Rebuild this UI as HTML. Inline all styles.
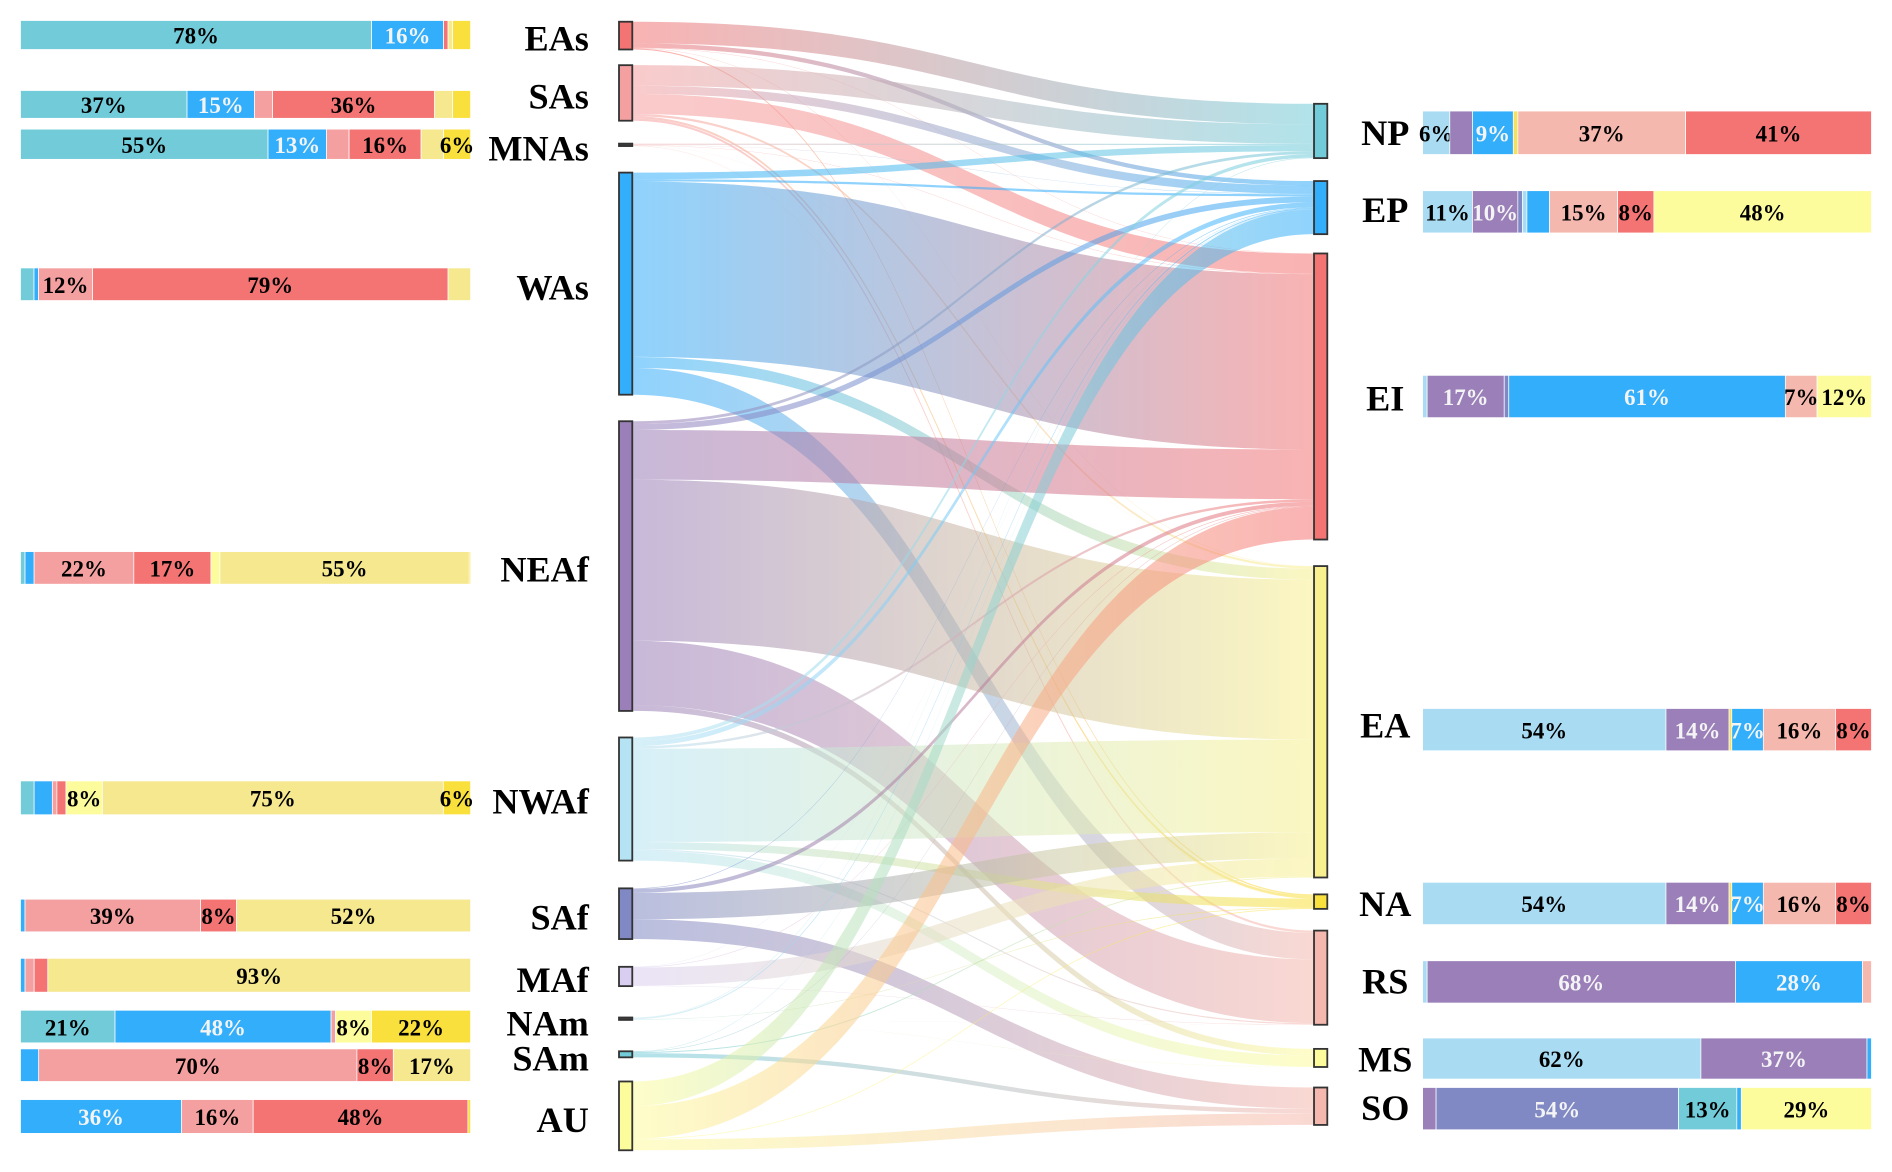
<!DOCTYPE html>
<html><head><meta charset="utf-8"><style>
html,body{margin:0;padding:0;background:#fff;}
svg{display:block;}
text{font-family:"Liberation Serif",serif;font-weight:bold;}
</style></head><body>
<svg id="chart" width="1892" height="1172" viewBox="0 0 1568 971" preserveAspectRatio="none" xmlns="http://www.w3.org/2000/svg">
<defs id="defs"></defs>
<g id="links"></g>
<g id="nodes"></g>
<g id="bars"></g>
</svg>
<script>
// ---- data ----
const sourceNames = ["EAs","SAs","MNAs","WAs","NEAf","NWAf","SAf","MAf","NAm","SAm","AU"];
const targetNames = ["NP","EP","EI","EA","NA","RS","MS","SO"];
const flowsEAs = [["NP",78],["EP",16],["EI",1],["EA",1],["NA",4]];
const flowsSAs = [["NP",37],["EP",15],["EI",36],["EA",4],["NA",4],["RS",4]];
const flowsMNAs = [["NP",55],["EP",13],["EI",16],["EA",5],["NA",6],["RS",5]];
const flowsWAs = [["NP",3],["EP",1],["EI",79],["EA",5],["RS",12]];
const flowsNEAf = [["NP",1],["EP",2],["EI",17],["EA",55],["RS",22],["MS",2]];
const flowsNWAf = [["NP",3],["EP",4],["EI",2],["EA",75],["NA",6],["RS",1],["MS",8]];
const flowsSAf = [["EP",1],["EI",8],["EA",52],["SO",39]];
const flowsMAf = [["EP",1],["EI",3],["EA",93],["RS",2]];
const flowsNAm = [["NP",21],["EP",48],["NA",22],["RS",1],["MS",8]];
const flowsSAm = [["EP",4],["EI",8],["EA",17],["SO",70]];
const flowsAU = [["EP",36],["EI",48],["NA",1],["SO",16]];
const flowsBySource = {EAs:flowsEAs,SAs:flowsSAs,MNAs:flowsMNAs,WAs:flowsWAs,NEAf:flowsNEAf,NWAf:flowsNWAf,SAf:flowsSAf,MAf:flowsMAf,NAm:flowsNAm,SAm:flowsSAm,AU:flowsAU};

const barVals_EAs=[78,16,1,1,4], barCols_EAs=["T","B","R","P","Y"];
const barVals_SAs=[37,15,4,36,4,4], barCols_SAs=["T","B","S","R","P","Y"];
const barVals_MNAs=[55,13,5,16,5,6], barCols_MNAs=["T","B","S","R","P","Y"];
const barVals_WAs=[3,1,12,79,5], barCols_WAs=["T","B","S","R","P"];
const barVals_NEAf=[1,2,22,17,2,55,0.3], barCols_NEAf=["T","B","S","R","L","P","Y"];
const barVals_NWAf=[3,4,1,2,8,75,6], barCols_NWAf=["T","B","S","R","L","P","Y"];
const barVals_SAf=[1,39,8,52], barCols_SAf=["B","S","R","P"];
const barVals_MAf=[1,2,3,93], barCols_MAf=["B","S","R","P"];
const barVals_NAm=[21,48,1,8,22], barCols_NAm=["T","B","S","L","Y"];
const barVals_SAm=[4,70,8,17], barCols_SAm=["B","S","R","P"];
const barVals_AU=[36,16,48,0.6], barCols_AU=["B","S","R","Y"];
const barVals_NP=[6,5,9,1,37,41], barCols_NP=["lb","pu","bl","ye","sa","re"];
const barVals_EP=[11,10,1,1,5,15,8,48], barCols_EP=["lb","pu","sl","lb","bl","sa","re","ly"];
const barVals_EI=[1,17,1,61,7,12], barCols_EI=["lb","pu","sl","bl","sa","ly"];
const barVals_EA=[54,14,0.6,7,16,8], barCols_EA=["lb","pu","ye","bl","sa","re"];
const barVals_NA=[54,14,0.6,7,16,8], barCols_NA=["lb","pu","ye","bl","sa","re"];
const barVals_RS=[1,68,28,2], barCols_RS=["lb","pu","bl","sa"];
const barVals_MS=[62,37,1], barCols_MS=["lb","pu","bl"];
const barVals_SO=[3,54,13,1,29], barCols_SO=["pu","sl","te","bl","ly"];

// ---- layout (not data) ----
const palette={T:"#72cbd9",B:"#33aefb",S:"#f5a0a0",R:"#f47474",P:"#f5e88f",Y:"#f9e03c",L:"#fdfc9d",
 lb:"#a9dcf3",pu:"#9a7fb9",bl:"#33aefb",sa:"#f5b8ae",re:"#f47474",ly:"#fdfc9d",sl:"#8089c4",te:"#72cbd9",ye:"#f5e060"};
const whiteText=["B","bl","pu","sl"];
const srcNode={EAs:[18,41,"#f47474"],SAs:[54,100,"#f5a0a0"],MNAs:[119,121,"#444"],WAs:[143,327,"#33aefb"],NEAf:[349,589,"#9a7fb9"],
 NWAf:[611,713,"#b5e3f3"],SAf:[736,778,"#8089c4"],MAf:[801,817,"#d9cdf0"],NAm:[843,845,"#444"],SAm:[871,876,"#72cbd9"],AU:[896,953,"#fdfc9d"]};
const srcFlowCol={EAs:"#f47474",SAs:"#f5a0a0",MNAs:"#f5c0c0",WAs:"#33aefb",NEAf:"#9a7fb9",NWAf:"#b5e3f3",SAf:"#8089c4",MAf:"#d9cdf0",NAm:"#bfe6ee",SAm:"#72cbd9",AU:"#fdfc9d"};
const tgtNode={NP:[86,131,"#72cbd9"],EP:[150,194,"#33aefb"],EI:[210,447,"#f47474"],EA:[469,727,"#f8f08f"],NA:[741,753,"#f9e03c"],
 RS:[771,849,"#f5b8ae"],MS:[869,884,"#fdfc9d"],SO:[901,932,"#f5b8ae"]};
const srcLabelY={EAs:32,SAs:80,MNAs:123,WAs:238,NEAf:472,NWAf:664,SAf:760,MAf:812,NAm:848,SAm:877,AU:928};
const srcBarY={EAs:[17,41],SAs:[75,98],MNAs:[107,132],WAs:[222,249],NEAf:[457,484],NWAf:[647,675],SAf:[745,772],MAf:[794,822],NAm:[837,864],SAm:[869,896],AU:[911,939]};
const tgtLabelY={NP:110,EP:174,EI:330,EA:601,NA:749,RS:813,MS:878,SO:918};
const tgtBarY={NP:[92,128],EP:[158,193],EI:[311,346],EA:[587,622],NA:[731,766],RS:[796,831],MS:[860,894],SO:[901,936]};
const SX0=513,SX1=524,TX0=1089,TX1=1100;
const NS="http://www.w3.org/2000/svg";
function mk(tag,attrs,parent){const e=document.createElementNS(NS,tag);for(const k in attrs)e.setAttribute(k,attrs[k]);parent.appendChild(e);return e;}

const links=[];
sourceNames.forEach(s=>{
  const n=srcNode[s];const h=n[1]-n[0];
  const fl=flowsBySource[s].slice().sort((a,b)=>targetNames.indexOf(a[0])-targetNames.indexOf(b[0]));
  const tot=fl.reduce((a,f)=>a+f[1],0);let y=n[0];
  fl.forEach(f=>{const w=h*f[1]/tot;links.push({s,t:f[0],v:w,y0:y,w0:w});y+=w;});
});
targetNames.forEach(t=>{
  const n=tgtNode[t];const h=n[1]-n[0];
  const inc=links.filter(l=>l.t===t).sort((a,b)=>sourceNames.indexOf(a.s)-sourceNames.indexOf(b.s));
  const tot=inc.reduce((a,l)=>a+l.v,0);let y=n[0];
  inc.forEach(l=>{const w=h*l.v/tot;l.y1=y;l.w1=w;y+=w;});
});
const defs=document.getElementById('defs');const gl=document.getElementById('links');
links.forEach((l,i)=>{
  const g=mk('linearGradient',{id:'g'+i,gradientUnits:'userSpaceOnUse',x1:SX1,x2:TX0,y1:0,y2:0},defs);
  mk('stop',{offset:'0','stop-color':srcFlowCol[l.s]},g);
  mk('stop',{offset:'1','stop-color':tgtNode[l.t][2]},g);
  const xm=(SX1+TX0)/2;
  const d=`M${SX1},${l.y0} C${xm},${l.y0} ${xm},${l.y1} ${TX0},${l.y1} L${TX0},${l.y1+l.w1} C${xm},${l.y1+l.w1} ${xm},${l.y0+l.w0} ${SX1},${l.y0+l.w0} Z`;
  const p=mk('path',{d,fill:`url(#g${i})`,'fill-opacity':'0.55'},gl);
  
  
});
const gn=document.getElementById('nodes');
sourceNames.forEach(s=>{const n=srcNode[s];
  const r=mk('rect',{x:SX0,y:n[0],width:SX1-SX0,height:Math.max(n[1]-n[0],1.5),fill:n[2],stroke:'#333','stroke-width':1.5},gn);
  
  
  const t=mk('text',{x:488,y:srcLabelY[s],'text-anchor':'end','dominant-baseline':'central','font-size':30},gn);t.textContent=s;
  
  
});
targetNames.forEach(s=>{const n=tgtNode[s];
  const r=mk('rect',{x:TX0,y:n[0],width:TX1-TX0,height:n[1]-n[0],fill:n[2],stroke:'#333','stroke-width':1.5},gn);
  
  
  const t=mk('text',{x:1148,y:tgtLabelY[s],'text-anchor':'middle','dominant-baseline':'central','font-size':30},gn);t.textContent=s;
  
  
});
const gb=document.getElementById('bars');
function drawBar(name,vals,cols,x0,x1,yr){
  const tot=vals.reduce((a,b)=>a+b,0);let x=x0;const W=x1-x0;
  const g=mk('g',{},gb);
  
  
  vals.forEach((v,i)=>{const w=W*v/tot;
    const r=mk('rect',{x:x,y:yr[0],width:w,height:yr[1]-yr[0],fill:palette[cols[i]],stroke:'#fff','stroke-width':0.6},g);
    
    
    if(v>=6){const t=mk('text',{x:x+w/2,y:(yr[0]+yr[1])/2+1,'text-anchor':'middle','dominant-baseline':'central','font-size':19,
      fill:whiteText.includes(cols[i])?'#f4f4f4':'#000','font-weight':whiteText.includes(cols[i])?'normal':'bold'},g);
      t.textContent=Math.round(v)+'%';
      
      }
    x+=w;});
}
sourceNames.forEach(s=>drawBar(s,eval('barVals_'+s),eval('barCols_'+s),17,390,srcBarY[s]));
targetNames.forEach(s=>drawBar(s,eval('barVals_'+s),eval('barCols_'+s),1179,1551,tgtBarY[s]));
</script>
</body></html>
